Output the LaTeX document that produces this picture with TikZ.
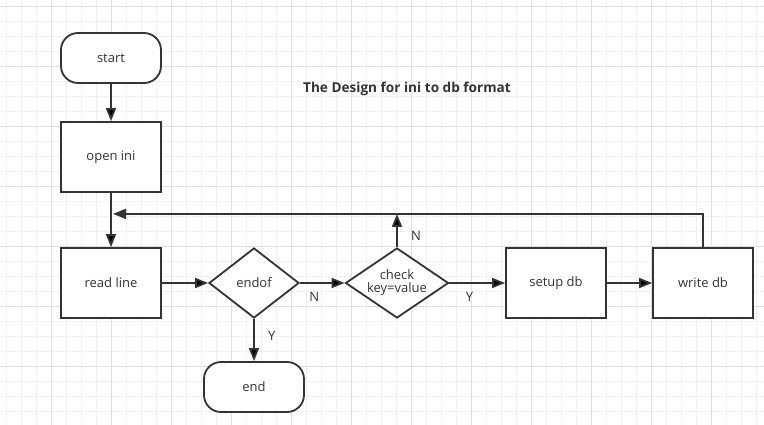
\documentclass[tikz,border=0pt]{standalone}
\usepackage{fontspec}
\setmainfont{Open Sans}
\usetikzlibrary{shapes.geometric, positioning, arrows.meta}
\definecolor{ink}{HTML}{333333}
\definecolor{gridminor}{HTML}{F0F0F0}
\definecolor{gridmajor}{HTML}{E0E0E0}

\begin{document}
\begin{tikzpicture}[>={Triangle[length=13pt,width=10pt]},node distance=2.5cm,on grid,auto,
  x=1pt,y=1pt,font=\fontsize{13}{15}\selectfont,text=ink]
\tikzstyle{proc}=[rectangle,draw=ink,line width=1.8pt,fill=white,minimum width=100pt,minimum height=70pt,inner sep=0pt]
\tikzstyle{term}=[proc,rounded corners=17pt,minimum height=50pt]
\tikzstyle{decide}=[diamond,draw=ink,line width=1.8pt,fill=white,minimum width=90pt,minimum height=70pt,inner sep=0pt,aspect=1.4,align=center]
\tikzstyle{flow}=[draw=ink,line width=1.8pt]

%--- canvas ---
\useasboundingbox (0,0) rectangle (764,-425);
\begin{scope}
  \clip (0,0) rectangle (764,-425);
  \draw[gridminor,line width=1pt,step=15pt,shift={(6.67,-6.67)}] (-15,15) grid (765,-435);
  \draw[gridmajor,line width=1pt,step=60pt,shift={(51.67,-6.67)}] (-60,15) grid (765,-435);
\end{scope}

%--- nodes ---
\node[term] (start) at (111,-58) {start};
\node[proc] (open) [below=99pt of start] {open ini};
\node[proc] (read) [below=126pt of open] {read line};
\node[decide] (endof) [right=143pt of read] {endof};
\node[term] (end) [below=104pt of endof] {end};
\node[decide,minimum width=103pt] (check) [right=143pt of endof] {check\\[-2pt]key=value};
\node[proc] (setup) [right=159pt of check] {setup db};
\node[proc] (write) [right=147pt of setup] {write db};
\path (open.south) ++(0,-21) coordinate (loop);

\node[font=\fontsize{13.6}{15}\selectfont\bfseries] (title) at (407,-89) {The Design for ini to db format};

%--- connectors ---
\path[flow,->]
  (start) edge (open)
  (open) edge (read)
  (read) edge (endof)
  (endof) edge node[below=5pt,pos=0.32] {N} (check)
  (endof) edge node[right=10pt,pos=0.39] {Y} (end)
  (check) edge node[below=5pt,pos=0.36] {Y} (setup)
  (check) edge node[right=10pt,pos=0.34] {N} (check.north |- loop)
  (setup) edge (write);

%--- back to read line ---
\draw[flow,->,shorten >=2pt] (write.north) |- (loop);

\end{tikzpicture}
\end{document}
